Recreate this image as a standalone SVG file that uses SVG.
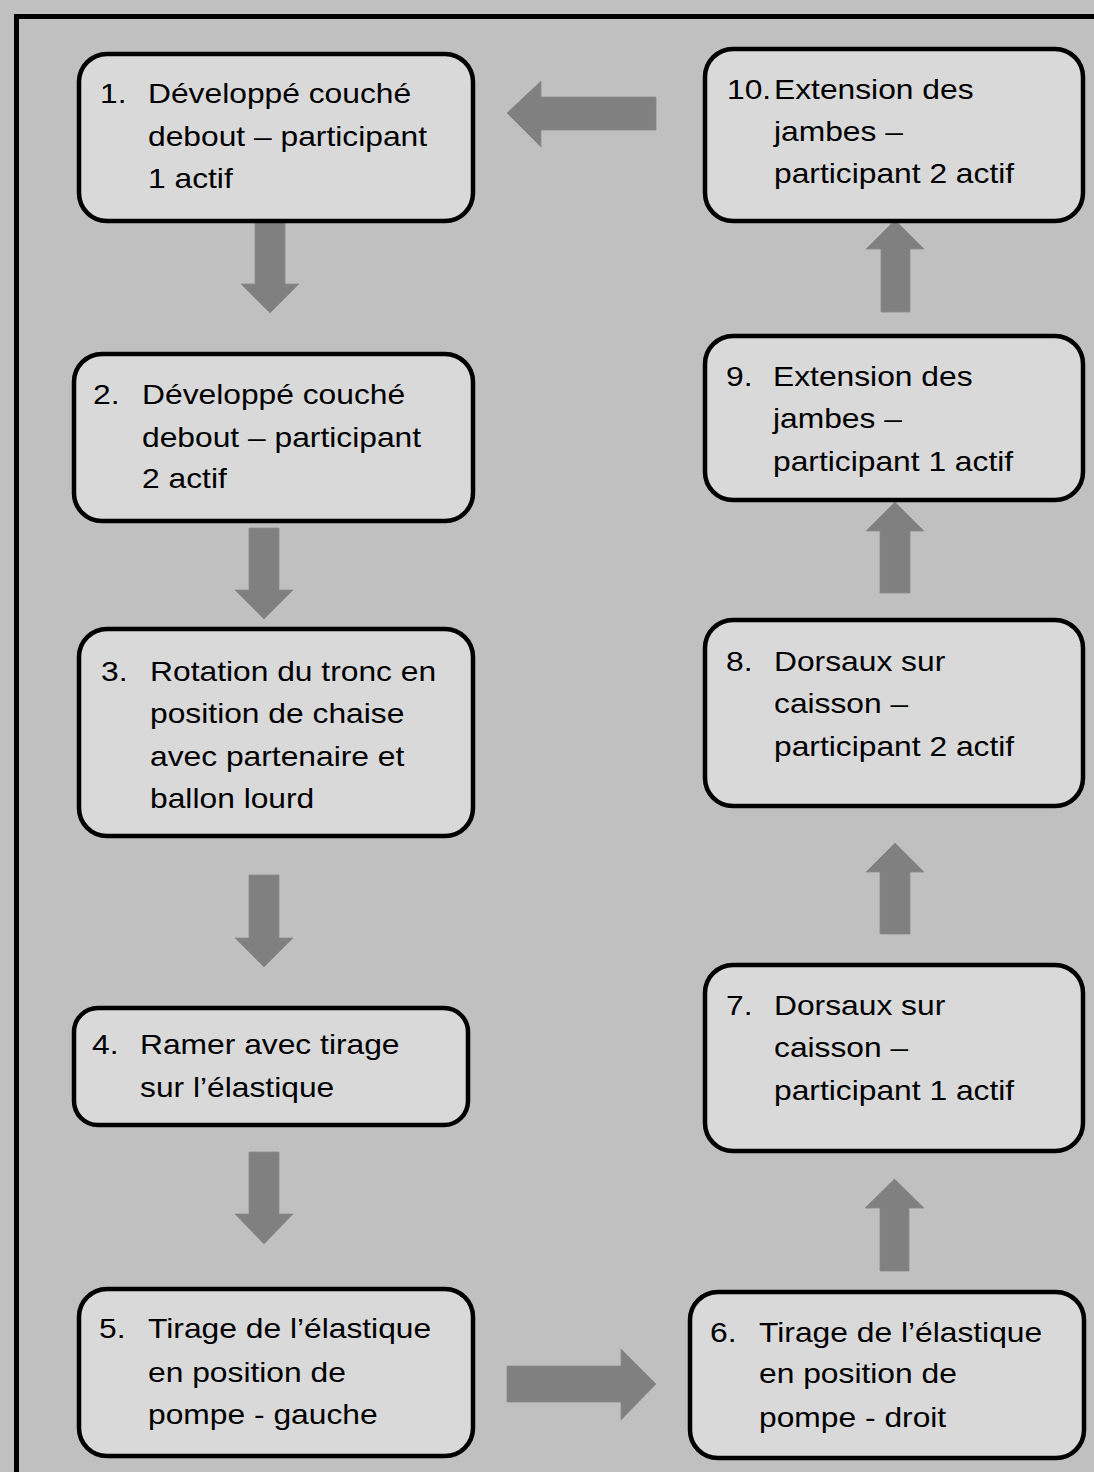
<svg xmlns="http://www.w3.org/2000/svg" width="1094" height="1472" viewBox="0 0 1094 1472">
<style>
.box{fill:#d9d9d9;stroke:#000;stroke-width:4.5}
.t{font-family:"Liberation Sans",Arial,sans-serif;font-size:28px;fill:#000}
.arr{fill:#808080;stroke:#8c8c8c;stroke-width:0.8}
</style>
<rect x="0" y="0" width="1094" height="1472" fill="#c0c0c0"/>
<rect x="16.5" y="16.5" width="1100" height="1500" fill="none" stroke="#000" stroke-width="5"/>
<g id="connectors">
<polygon class="arr" points="255,222 285,222 285,284 299,284 270,313 241,284 255,284"/>
<polygon class="arr" points="249,528 279,528 279,590 293,590 264,619 235,590 249,590"/>
<polygon class="arr" points="249,875 279,875 279,938 293,938 264,967 235,938 249,938"/>
<polygon class="arr" points="249,1152 279,1152 279,1214 293,1214 264,1244 235,1214 249,1214"/>
<polygon class="arr" points="507,1366 621,1366 621,1349 656,1384 621,1420 621,1402 507,1402"/>
<polygon class="arr" points="880,1271 909,1271 909,1208 924,1208 894.5,1179 865,1208 880,1208"/>
<polygon class="arr" points="880,934 910,934 910,872 924,872 895,843 866,872 880,872"/>
<polygon class="arr" points="880,593 910,593 910,531 924,531 895,502 866,531 880,531"/>
<polygon class="arr" points="881,312 910,312 910,249 924,249 895,220 866,249 881,249"/>
<polygon class="arr" points="656,97 656,130 541,130 541,147 507,113 541,81 541,97"/>
</g>
<g id="node1">
<rect class="box" x="79" y="54" width="394" height="167" rx="28"/>
<text class="t" transform="matrix(1.135 0 0 1 100 0)"><tspan x="0" y="103">1.</tspan><tspan x="42.3" y="103">Développé couché</tspan><tspan x="42.3" y="146">debout – participant</tspan><tspan x="42.3" y="188">1 actif</tspan></text>
</g>
<g id="node2">
<rect class="box" x="74" y="354" width="399" height="167" rx="28"/>
<text class="t" transform="matrix(1.135 0 0 1 93 0)"><tspan x="0" y="404">2.</tspan><tspan x="43.2" y="404">Développé couché</tspan><tspan x="43.2" y="447">debout – participant</tspan><tspan x="43.2" y="488">2 actif</tspan></text>
</g>
<g id="node3">
<rect class="box" x="79" y="629" width="394" height="207" rx="28"/>
<text class="t" transform="matrix(1.135 0 0 1 101 0)"><tspan x="0" y="681">3.</tspan><tspan x="43.2" y="681">Rotation du tronc en</tspan><tspan x="43.2" y="723">position de chaise</tspan><tspan x="43.2" y="766">avec partenaire et</tspan><tspan x="43.2" y="808">ballon lourd</tspan></text>
</g>
<g id="node4">
<rect class="box" x="74" y="1008" width="394" height="117" rx="24"/>
<text class="t" transform="matrix(1.135 0 0 1 92 0)"><tspan x="0" y="1054">4.</tspan><tspan x="42.3" y="1054">Ramer avec tirage</tspan><tspan x="42.3" y="1097">sur l’élastique</tspan></text>
</g>
<g id="node5">
<rect class="box" x="79" y="1289" width="394" height="167" rx="28"/>
<text class="t" transform="matrix(1.135 0 0 1 99 0)"><tspan x="0" y="1338">5.</tspan><tspan x="43.2" y="1338">Tirage de l’élastique</tspan><tspan x="43.2" y="1382">en position de</tspan><tspan x="43.2" y="1424">pompe - gauche</tspan></text>
</g>
<g id="node6">
<rect class="box" x="690" y="1292" width="394" height="166" rx="28"/>
<text class="t" transform="matrix(1.135 0 0 1 710 0)"><tspan x="0" y="1342">6.</tspan><tspan x="43.2" y="1342">Tirage de l’élastique</tspan><tspan x="43.2" y="1383">en position de</tspan><tspan x="43.2" y="1427">pompe - droit</tspan></text>
</g>
<g id="node7">
<rect class="box" x="705" y="965" width="378" height="186" rx="28"/>
<text class="t" transform="matrix(1.135 0 0 1 726 0)"><tspan x="0" y="1015">7.</tspan><tspan x="42.3" y="1015">Dorsaux sur</tspan><tspan x="42.3" y="1057">caisson –</tspan><tspan x="42.3" y="1100">participant 1 actif</tspan></text>
</g>
<g id="node8">
<rect class="box" x="705" y="620" width="378" height="186" rx="28"/>
<text class="t" transform="matrix(1.135 0 0 1 726 0)"><tspan x="0" y="671">8.</tspan><tspan x="42.3" y="671">Dorsaux sur</tspan><tspan x="42.3" y="713">caisson –</tspan><tspan x="42.3" y="756">participant 2 actif</tspan></text>
</g>
<g id="node9">
<rect class="box" x="705" y="336" width="378" height="164" rx="28"/>
<text class="t" transform="matrix(1.135 0 0 1 726 0)"><tspan x="0" y="386">9.</tspan><tspan x="41.4" y="386">Extension des</tspan><tspan x="41.4" y="428">jambes –</tspan><tspan x="41.4" y="471">participant 1 actif</tspan></text>
</g>
<g id="node10">
<rect class="box" x="705" y="49" width="378" height="172" rx="28"/>
<text class="t" transform="matrix(1.135 0 0 1 727 0)"><tspan x="0" y="99">10.</tspan><tspan x="41.4" y="99">Extension des</tspan><tspan x="41.4" y="141">jambes –</tspan><tspan x="41.4" y="183">participant 2 actif</tspan></text>
</g>
</svg>
